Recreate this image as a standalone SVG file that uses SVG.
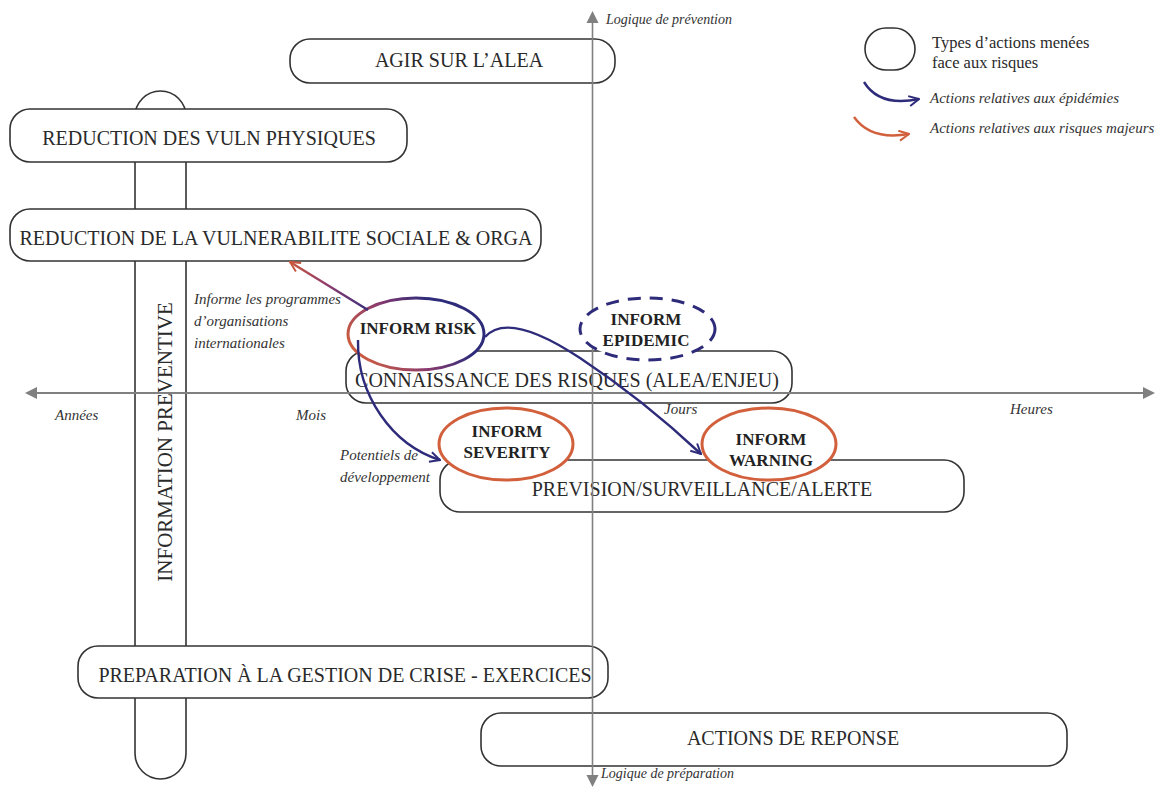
<svg xmlns="http://www.w3.org/2000/svg" width="1156" height="788" viewBox="0 0 1156 788">
<style>
.box{fill:#fff;stroke:#333;stroke-width:1.6}
.bt{font-family:"Liberation Serif",serif;font-size:20px;fill:#2a2a2a}
.it{font-family:"Liberation Serif",serif;font-style:italic;font-size:15px;fill:#333}
.bold{font-family:"Liberation Serif",serif;font-weight:bold;font-size:17px;fill:#222;text-anchor:middle}
.axis{stroke:#808080;stroke-width:2;fill:none}
.axhead{fill:#808080}
.navy{fill:none;stroke:#2e2c7a;stroke-width:2.4}
.orange{fill:none;stroke:#d2603c;stroke-width:2.4}
</style>
<defs>
<marker id="ah-navy" viewBox="0 0 12 12" refX="11" refY="6" markerWidth="12" markerHeight="12" markerUnits="userSpaceOnUse" orient="auto"><path d="M1,1 L11,6 L1,11" fill="none" stroke="#2e2c7a" stroke-width="2"/></marker>
<marker id="ah-orange" viewBox="0 0 12 12" refX="11" refY="6" markerWidth="12" markerHeight="12" markerUnits="userSpaceOnUse" orient="auto"><path d="M1,1 L11,6 L1,11" fill="none" stroke="#d2603c" stroke-width="2"/></marker>
<marker id="ah-red" viewBox="0 0 12 12" refX="11" refY="6" markerWidth="12" markerHeight="12" markerUnits="userSpaceOnUse" orient="auto"><path d="M1,1 L11,6 L1,11" fill="none" stroke="#c8583f" stroke-width="2"/></marker>
<linearGradient id="grRisk" x1="0" y1="0.7" x2="1" y2="0.3"><stop offset="0" stop-color="#d2603c"/><stop offset="0.4" stop-color="#8a3a6e"/><stop offset="0.75" stop-color="#2e2c7a"/><stop offset="1" stop-color="#2e2c7a"/></linearGradient>
<linearGradient id="grArrow" gradientUnits="userSpaceOnUse" x1="368" y1="310" x2="290" y2="262"><stop offset="0" stop-color="#3a2e7a"/><stop offset="0.5" stop-color="#8a3a6e"/><stop offset="1" stop-color="#c8583f"/></linearGradient>
</defs>
<rect width="1156" height="788" fill="#fff"/>

<g id="info-preventive">
<rect class="box" x="135" y="91" width="51" height="688" rx="25.5"/>
<text class="bt" style="font-size:21px" text-anchor="middle" transform="translate(172,442) rotate(-90)">INFORMATION PREVENTIVE</text>
</g>
<g id="agir-alea">
<rect class="box" x="290" y="39" width="325" height="44" rx="20"/>
<text class="bt" x="459" y="67" text-anchor="middle">AGIR SUR L’ALEA</text>
</g>
<g id="reduction-physiques">
<rect class="box" x="10" y="109" width="397" height="53" rx="20"/>
<text class="bt" x="209" y="145" text-anchor="middle">REDUCTION DES VULN PHYSIQUES</text>
</g>
<g id="reduction-sociale">
<rect class="box" x="10" y="209" width="531" height="52" rx="20"/>
<text class="bt" x="276" y="245" text-anchor="middle">REDUCTION DE LA VULNERABILITE SOCIALE &amp; ORGA</text>
</g>
<g id="connaissance">
<rect class="box" x="346" y="351" width="446" height="52" rx="20"/>
<text class="bt" x="567" y="387" text-anchor="middle">CONNAISSANCE DES RISQUES (ALEA/ENJEU)</text>
</g>
<g id="prevision">
<rect class="box" x="440" y="460" width="524" height="52" rx="20"/>
<text class="bt" x="702" y="496" text-anchor="middle">PREVISION/SURVEILLANCE/ALERTE</text>
</g>
<g id="preparation">
<rect class="box" x="78" y="646" width="530" height="52" rx="20"/>
<text class="bt" x="345" y="682" text-anchor="middle">PREPARATION À LA GESTION DE CRISE - EXERCICES</text>
</g>
<g id="reponse">
<rect class="box" x="481" y="713" width="586" height="53" rx="20"/>
<text class="bt" x="793" y="745" text-anchor="middle">ACTIONS DE REPONSE</text>
</g>

<g id="axes">
<line class="axis" x1="36" y1="393" x2="1144" y2="393"/>
<polygon class="axhead" points="25,393 37,387 37,399"/>
<polygon class="axhead" points="1155,393 1143,387 1143,399"/>
<line class="axis" x1="592.5" y1="22" x2="592.5" y2="776" style="stroke-width:1.6"/>
<polygon class="axhead" points="592.5,11 586.5,23 598.5,23"/>
<polygon class="axhead" points="592.5,787 586.5,775 598.5,775"/>
<text class="it" style="font-size:14px" x="606" y="24">Logique de prévention</text>
<text class="it" style="font-size:14px" x="601" y="778">Logique de préparation</text>
<text class="it" x="55" y="420">Années</text>
<text class="it" x="296" y="420">Mois</text>
<text class="it" x="664" y="414">Jours</text>
<text class="it" x="1010" y="414">Heures</text>
</g>

<g id="inform-risk">
<ellipse cx="416" cy="334" rx="68" ry="36" fill="#fff" stroke="url(#grRisk)" stroke-width="3"/>
<text class="bold" x="418" y="334">INFORM RISK</text>
</g>
<g id="inform-epidemic">
<ellipse cx="647.5" cy="329" rx="67.5" ry="31" fill="#fff" stroke="#2e2c7a" stroke-width="3" stroke-dasharray="13 9"/>
<text class="bold" x="646" y="325">INFORM</text>
<text class="bold" x="646" y="346">EPIDEMIC</text>
</g>
<g id="inform-severity">
<ellipse cx="506" cy="444" rx="67" ry="36" fill="#fff" stroke="#d2603c" stroke-width="3"/>
<text class="bold" x="507" y="437">INFORM</text>
<text class="bold" x="507" y="458">SEVERITY</text>
</g>
<g id="inform-warning">
<ellipse cx="769" cy="444" rx="67" ry="36" fill="#fff" stroke="#d2603c" stroke-width="3"/>
<text class="bold" x="771" y="445">INFORM</text>
<text class="bold" x="771" y="466">WARNING</text>
</g>

<g id="connectors">
<path d="M368 310 L290 262" fill="none" stroke="url(#grArrow)" stroke-width="2.4" marker-end="url(#ah-red)"/>
<path class="navy" d="M485 337 C500 320, 530 325, 580 358 C630 391, 670 425, 701 454" marker-end="url(#ah-navy)"/>
<path class="navy" d="M358 340 C357 395, 392 445, 440 460" marker-end="url(#ah-navy)"/>
</g>

<g id="annotations">
<text class="it" x="194" y="304">Informe les programmes</text>
<text class="it" x="194" y="326">d’organisations</text>
<text class="it" x="194" y="348">internationales</text>
<text class="it" x="340" y="460">Potentiels de</text>
<text class="it" x="340" y="482">développement</text>
</g>

<g id="legend">
<rect x="865" y="28" width="50" height="42" rx="21" fill="#fff" stroke="#333" stroke-width="1.6"/>
<text class="bt" style="font-size:16.5px" x="932" y="48">Types d’actions menées</text>
<text class="bt" style="font-size:16.5px" x="932" y="68">face aux risques</text>
<path class="navy" d="M864 82 C875 100, 895 104, 919 99" marker-end="url(#ah-navy)"/>
<path class="orange" d="M854 117 C866 134, 886 138, 909 134" marker-end="url(#ah-orange)"/>
<text class="it" x="930" y="103">Actions relatives aux épidémies</text>
<text class="it" x="930" y="133">Actions relatives aux risques majeurs</text>
</g>
</svg>
